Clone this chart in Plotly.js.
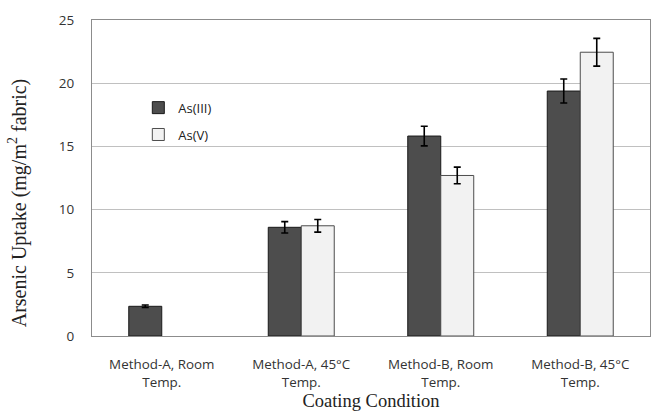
<!DOCTYPE html>
<html><head><meta charset="utf-8">
<script src="https://cdn.plot.ly/plotly-3.0.1.min.js"></script>
<style>html,body{margin:0;padding:0;background:#fff}</style>
</head><body><div id="chart" style="width:651px;height:411px"></div>
<script>
const categories = ["Method-A, Room<br>Temp.", "Method-A, 45°C<br>Temp.", "Method-B, Room<br>Temp.", "Method-B, 45°C<br>Temp."];
const asIII = [2.35, 8.6, 15.82, 19.38];
const asIIIerr = [0.1, 0.45, 0.78, 0.95];
const asV = [0, 8.72, 12.7, 22.45];
const asVerr = [0, 0.5, 0.66, 1.1];
const yTicks = [0, 5, 10, 15, 20, 25];
const yTitle = 'Arsenic Uptake (mg/m<sup>2</sup> fabric)';
const xTitle = 'Coating Condition';

const sans = "Open Sans, Noto Sans, sans-serif";
const serif = "Liberation Serif, DejaVu Serif, serif";

const traces = [
  {type:'bar', name:'As(III)', x:categories, y:asIII,
   marker:{color:'#4d4d4d', line:{color:'#1a1a1a', width:1}},
   error_y:{type:'data', array:asIIIerr, visible:true, color:'#000', thickness:1.6, width:3.5},
   legend:'legend'},
  {type:'bar', name:'As(V)', x:categories, y:asV.map(v=>v===0?null:v),
   marker:{color:'#f2f2f2', line:{color:'#4d4d4d', width:1}},
   error_y:{type:'data', array:asVerr, visible:true, color:'#000', thickness:1.6, width:3.5},
   legend:'legend2'}
];

const layout = {
  width:651, height:411,
  margin:{l:92, r:1, t:20, b:75},
  paper_bgcolor:'#fff', plot_bgcolor:'#fff',
  barmode:'group', bargap:0.527, bargroupgap:0,
  showlegend:true,
  legend:{x:0.083, y:0.77, xanchor:'left', yanchor:'top', bgcolor:'rgba(0,0,0,0)',
          font:{family:sans, size:13, color:'#222'}, itemwidth:30},
  legend2:{x:0.083, y:0.685, xanchor:'left', yanchor:'top', bgcolor:'rgba(0,0,0,0)',
          font:{family:sans, size:13, color:'#222'}, itemwidth:30},
  xaxis:{
    type:'category', showline:true, mirror:true, linecolor:'#8c8c8c', linewidth:1,
    showgrid:false, ticks:'', tickfont:{family:sans, size:13.4, color:'#333'},
    ticklabelstandoff:16,
    title:{text:xTitle, font:{family:serif, size:18.5, color:'#222'}, standoff:5}
  },
  yaxis:{
    range:[0,25], tickvals:yTicks, ticktext:yTicks.map(String),
    showline:true, mirror:true, linecolor:'#8c8c8c', linewidth:1,
    showgrid:true, gridcolor:'#c0c0c0', gridwidth:1, zeroline:false,
    ticks:'', tickfont:{family:sans, size:13.5, color:'#333'}, ticklabelstandoff:14
  },
  annotations:[{
    text:yTitle, textangle:-90, showarrow:false,
    xref:'paper', yref:'paper', x:-0.132, y:0.421, xanchor:'center', yanchor:'middle',
    font:{family:serif, size:20, color:'#222'}
  }]
};
Plotly.newPlot('chart', traces, layout, {staticPlot:true, displayModeBar:false});
</script></body></html>
